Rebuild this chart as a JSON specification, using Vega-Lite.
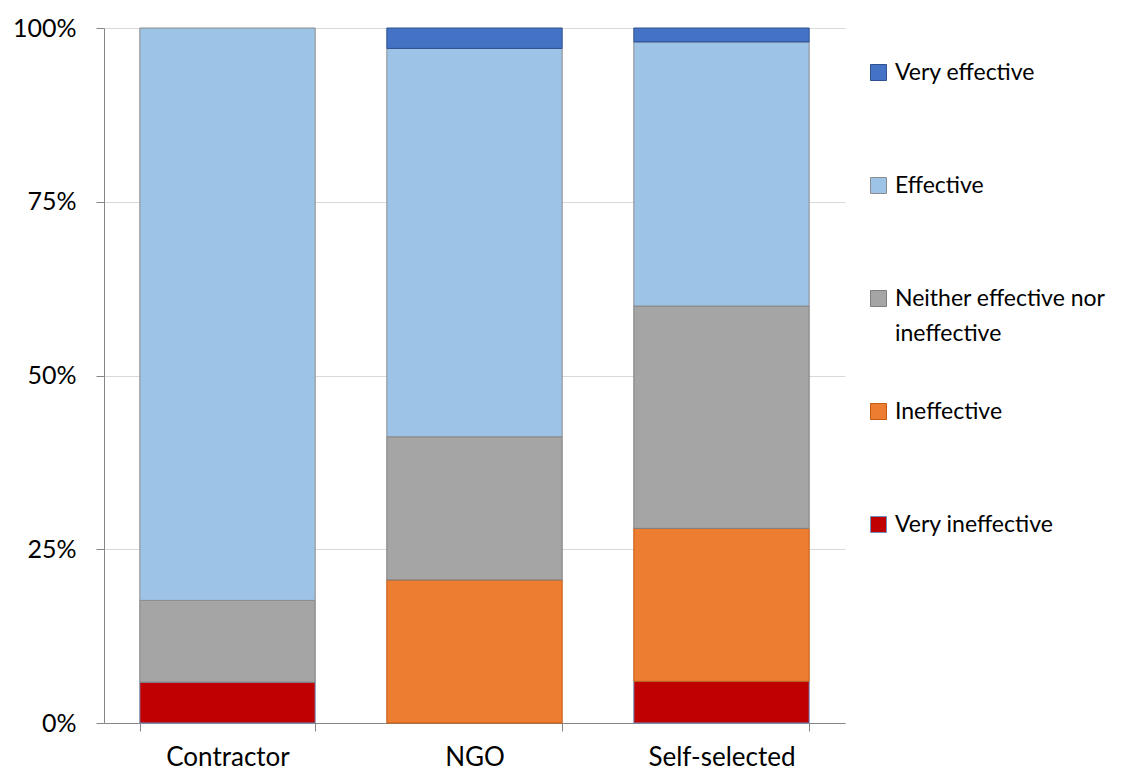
{
  "$schema": "https://vega.github.io/schema/vega-lite/v6.json",
  "autosize": {"type": "none"},
  "width": 741,
  "height": 695,
  "padding": {"left": 104, "top": 28, "right": 298, "bottom": 48},
  "background": "white",
  "config": {
    "view": {"stroke": null},
    "font": "Lato",
    "axis": {"labelFont": "Lato", "labelColor": "#000000", "domainColor": "#868686", "tickColor": "#868686"}
  },
  "data": {
    "values": [
      {"group": "Contractor", "rating": "Very ineffective", "score": 1, "share": 0.0588},
      {"group": "Contractor", "rating": "Neither effective nor ineffective", "score": 3, "share": 0.1176},
      {"group": "Contractor", "rating": "Effective", "score": 4, "share": 0.8236},
      {"group": "NGO", "rating": "Ineffective", "score": 2, "share": 0.2059},
      {"group": "NGO", "rating": "Neither effective nor ineffective", "score": 3, "share": 0.2059},
      {"group": "NGO", "rating": "Effective", "score": 4, "share": 0.5588},
      {"group": "NGO", "rating": "Very effective", "score": 5, "share": 0.0294},
      {"group": "Self-selected", "rating": "Very ineffective", "score": 1, "share": 0.06},
      {"group": "Self-selected", "rating": "Ineffective", "score": 2, "share": 0.22},
      {"group": "Self-selected", "rating": "Neither effective nor ineffective", "score": 3, "share": 0.32},
      {"group": "Self-selected", "rating": "Effective", "score": 4, "share": 0.38},
      {"group": "Self-selected", "rating": "Very effective", "score": 5, "share": 0.02}
    ]
  },
  "mark": {"type": "bar", "strokeWidth": 1},
  "encoding": {
    "x": {
      "field": "group",
      "type": "nominal",
      "sort": ["Contractor", "NGO", "Self-selected"],
      "scale": {"paddingInner": 0.29, "paddingOuter": 0.145},
      "axis": {
        "title": null,
        "labelAngle": 0,
        "labelFontSize": 26,
        "labelPadding": 13,
        "tickBand": "extent",
        "tickSize": 8,
        "grid": false
      }
    },
    "y": {
      "field": "share",
      "type": "quantitative",
      "stack": "zero",
      "scale": {"domain": [0, 1], "nice": false},
      "axis": {
        "title": null,
        "values": [0, 0.25, 0.5, 0.75, 1],
        "format": ".0%",
        "labelFontSize": 25,
        "labelPadding": 20,
        "tickSize": 8,
        "grid": true,
        "gridColor": "#d9d9d9"
      }
    },
    "order": {"field": "score", "type": "quantitative", "sort": "ascending"},
    "color": {
      "field": "rating",
      "type": "nominal",
      "scale": {
        "domain": ["Very effective", "Effective", "Neither effective nor ineffective", "Ineffective", "Very ineffective"],
        "range": ["#4472C4", "#9DC3E6", "#A5A5A5", "#ED7D31", "#C00000"]
      },
      "legend": {
        "title": null,
        "orient": "none",
        "legendX": 763,
        "legendY": 33,
        "symbolType": "square",
        "symbolSize": 256,
        "symbolStrokeWidth": 1,
        "labelFontSize": 23,
        "labelFont": "Lato",
        "labelColor": "#000000",
        "labelLimit": 300,
        "labelOffset": 5,
        "gridAlign": "all",
        "rowPadding": 54,
        "labelExpr": "datum.label == 'Neither effective nor ineffective' ? ['Neither effective nor', 'ineffective'] : datum.label",
        "encode": {"labels": {"update": {"lineHeight": {"value": 35}}}}
      }
    },
    "stroke": {
      "field": "rating",
      "type": "nominal",
      "scale": {
        "domain": ["Very effective", "Effective", "Neither effective nor ineffective", "Ineffective", "Very ineffective"],
        "range": ["#2F528F", "#8C8C8C", "#7F7F7F", "#C55A11", "#6F8FBF"]
      },
      "legend": {
        "title": null,
        "orient": "none",
        "legendX": 763,
        "legendY": 33,
        "symbolType": "square",
        "symbolSize": 256,
        "symbolStrokeWidth": 1,
        "labelFontSize": 23,
        "labelFont": "Lato",
        "labelColor": "#000000",
        "labelLimit": 300,
        "labelOffset": 5,
        "gridAlign": "all",
        "rowPadding": 54,
        "labelExpr": "datum.label == 'Neither effective nor ineffective' ? ['Neither effective nor', 'ineffective'] : datum.label",
        "encode": {"labels": {"update": {"lineHeight": {"value": 35}}}}
      }
    }
  }
}
